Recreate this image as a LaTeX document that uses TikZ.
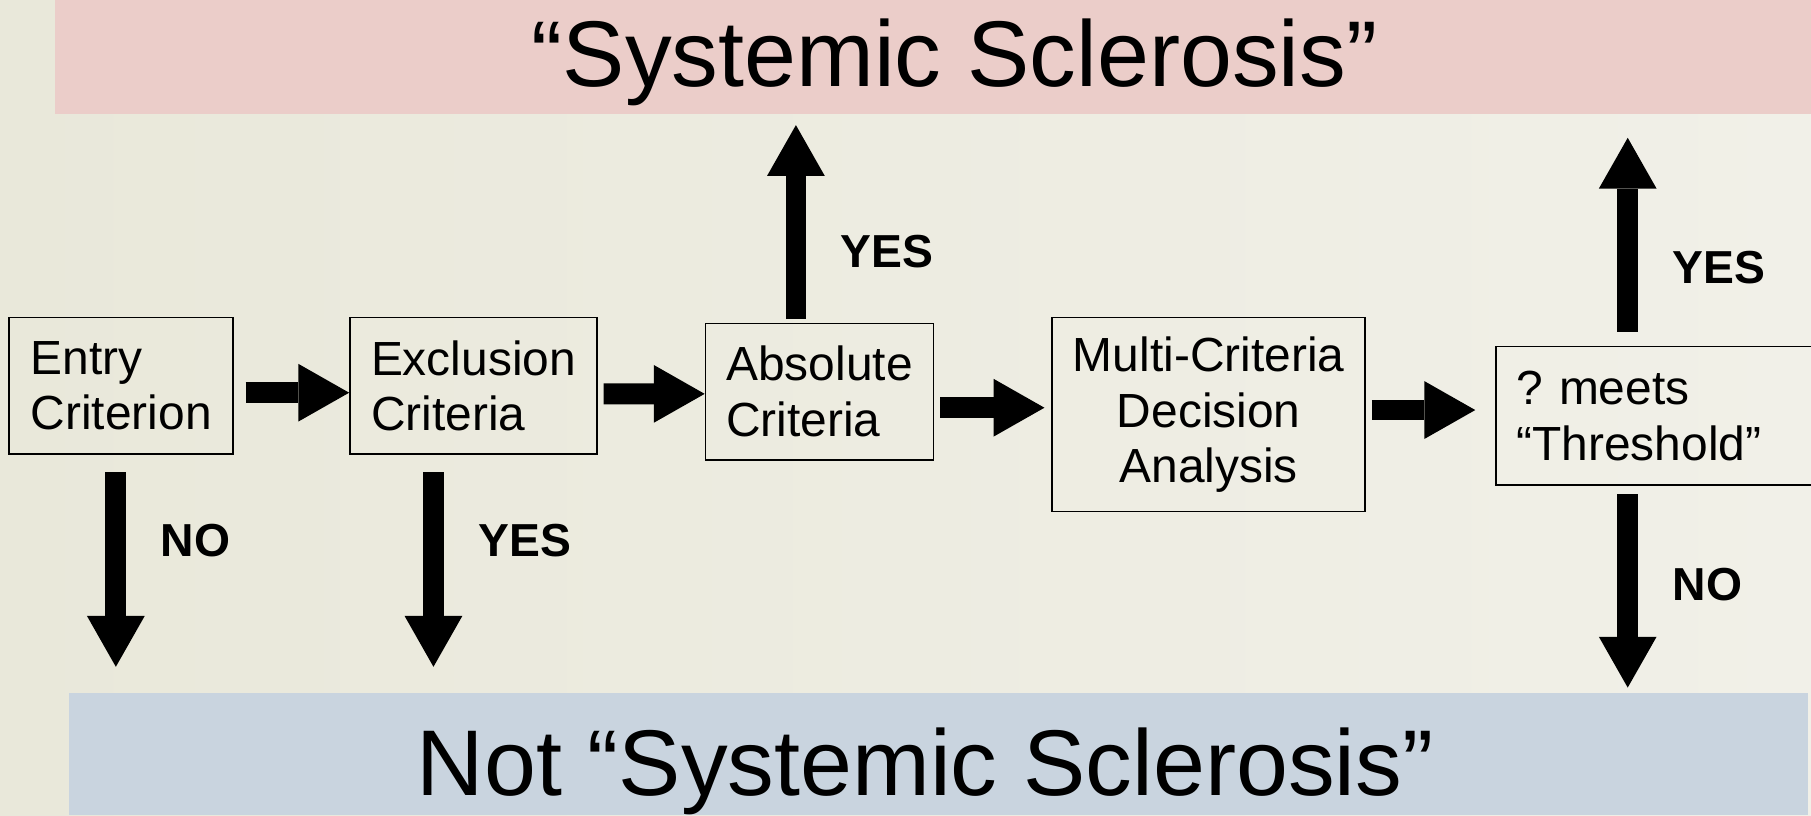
\documentclass[tikz,border=0pt]{standalone}
\usepackage{fontspec}
\setmainfont{Liberation Sans}
\usepackage{xcolor}
\usetikzlibrary{arrows.meta}
\definecolor{bg1}{HTML}{E9E8DA}
\definecolor{bg2}{HTML}{F1F0E8}
\definecolor{p1}{HTML}{EBCDC9}
\definecolor{b1}{HTML}{C9D4DF}

\tikzset{
  box/.style={draw, line width=0.4pt, rectangle, inner xsep=0.18cm, inner ysep=0pt, align=left, font=\fontsize{11.8pt}{13.7pt}\selectfont},
  band/.style={rectangle, inner sep=0pt},
  ttl/.style={anchor=base, inner sep=0pt, font=\fontsize{23pt}{27pt}\selectfont},
  blk/.style={line width=0.18cm, -{Triangle[length=0.44cm,width=0.5cm,line width=0pt]}},
  lbl/.style={right, inner sep=0pt, xshift=0.3cm, font=\fontsize{11.4pt}{13pt}\selectfont\bfseries}
}

\begin{document}
\begin{tikzpicture}
  \clip (0,0) rectangle (15.68,-7.06);
  \shade [left color=bg1, right color=bg2] (0,0) rectangle (15.68,-7.06); %background

  % top and bottom bands
  \node (ssc) [band, fill=p1, minimum width=15.22cm, minimum height=0.986cm] at (8.09,-0.493) {};
  \node (notssc) [band, fill=b1, minimum width=15.05cm, minimum height=1.06cm] at (8.125,-6.53) {};
  \node (tssc) [ttl] at (8.265,-0.75) {“Systemic Sclerosis”};
  \node (tnot) [ttl] at (8.01,-6.89) {Not “Systemic Sclerosis”};

  % boxes
  \node (entry) [box, minimum width=1.94cm, minimum height=1.18cm] at (1.05,-3.34) {Entry\\Criterion};
  \node (excl) [box, minimum width=2.14cm, minimum height=1.18cm] at (4.10,-3.34) {Exclusion\\Criteria};
  \node (absol) [box, minimum width=1.97cm, minimum height=1.18cm] at (7.095,-3.39) {Absolute\\Criteria};
  \node (multi) [box, align=center, minimum width=2.71cm, minimum height=1.68cm] at (10.465,-3.59) {Multi-Criteria\\Decision\\Analysis};
  \node (thr) [box, text width=2.94cm, minimum height=1.20cm] at (14.60,-3.60) {?\ meets\\“Threshold”};

  \draw [blk, shorten <=0.1cm] ([yshift=-0.06cm]entry.east) -- ([yshift=-0.06cm]excl.west);
  \draw [blk, shorten <=0.05cm] ([yshift=-0.07cm]excl.east) -- ([yshift=-0.02cm]absol.west);
  \draw [blk, shorten <=0.05cm, shorten >=0.06cm] ([yshift=-0.14cm]absol.east) -- ([yshift=0.06cm]multi.west);
  \draw [blk, shorten <=0.05cm, shorten >=0.17cm] ([yshift=0.04cm]multi.east) -- ([yshift=0.05cm]thr.west);

  % yes / no arrows
  \coordinate (e1) at ([xshift=0.93cm]entry.south west);
  \coordinate (x1) at ([xshift=0.73cm]excl.south west);
  \coordinate (a1) at ([xshift=0.79cm]absol.north west);
  \coordinate (t1) at ([xshift=1.15cm]thr.north west);
  \coordinate (t2) at ([xshift=1.15cm]thr.south west);
  \draw [blk, shorten <=0.15cm, shorten >=0.22cm] (e1) -- (e1 |- notssc.north) node[lbl, pos=0.36] {NO};
  \draw [blk, shorten <=0.15cm, shorten >=0.22cm] (x1) -- (x1 |- notssc.north) node[lbl, pos=0.36] {YES};
  \draw [blk, shorten <=0.03cm, shorten >=0.09cm] (a1) -- (a1 |- ssc.south) node[lbl, pos=0.34] {YES};
  \draw [blk, shorten <=0.12cm, shorten >=0.20cm] (t1) -- (t1 |- ssc.south) node[lbl, pos=0.34] {YES};
  \draw [blk, shorten <=0.07cm, shorten >=0.04cm] (t2) -- (t2 |- notssc.north) node[lbl, pos=0.48] {NO};
\end{tikzpicture}
\end{document}
